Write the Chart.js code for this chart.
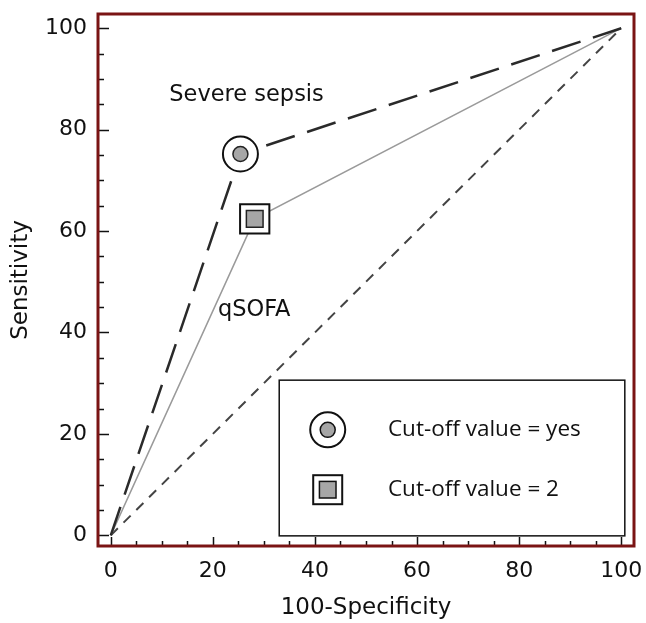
<!DOCTYPE html>
<html>
<head>
<meta charset="utf-8">
<script src="https://cdn.jsdelivr.net/npm/chart.js@4.4.1/dist/chart.umd.min.js"></script>
<style>
  body { margin: 0; background: #fff; }
  #rocChart { display: block; }
</style>
</head>
<body>
<canvas id="rocChart" width="646" height="623"></canvas>
<script>
// ROC curves: x = 100-specificity, y = sensitivity
const severeX = [0, 25.4, 100];
const severeY = [0, 75.2, 100];
const qsofaX = [0, 28.2, 100];
const qsofaY = [0, 62.4, 100];
const chanceX = [0, 100];
const chanceY = [0, 100];
const cutIndex = 1; // point of the cut-off value on each curve

const tickValues = [0, 20, 40, 60, 80, 100];
const curveNames = ["Severe sepsis", "qSOFA"];
const legendLabels = ["Cut-off value = yes", "Cut-off value = 2"];

const axisFont = { family: "DejaVu Sans", size: 22 };
const titleFont = { family: "DejaVu Sans", size: 23 };
const textColor = "#111";
const markerGrey = "#a6a6a6";

const toPoints = (xs, ys) => xs.map((x, i) => ({ x: x, y: ys[i] }));

function markerSet(xs, ys, style, radius, fill, border, width) {
  return {
    data: [{ x: xs[cutIndex], y: ys[cutIndex] }],
    showLine: false,
    pointStyle: style,
    pointRadius: radius,
    pointHoverRadius: radius,
    pointBackgroundColor: fill,
    pointBorderColor: border,
    pointBorderWidth: width,
  };
}

function lineSet(xs, ys, color, width, dash) {
  return {
    data: toPoints(xs, ys),
    showLine: true,
    borderColor: color,
    borderWidth: width,
    borderDash: dash,
    pointRadius: 0,
    fill: false,
    tension: 0,
  };
}

// drawn on top of everything: legend, frame, inward ticks, curve names
const decorPlugin = {
  id: "decor",
  afterDraw(chart) {
    const ctx = chart.ctx;
    const area = chart.chartArea;
    const xs = chart.scales.x;
    const ys = chart.scales.y;

    ctx.save();

    // inward tick marks every 5
    ctx.strokeStyle = "#111";
    ctx.lineWidth = 1.5;
    for (let v = 0; v <= 100; v += 5) {
      const major = v % 20 === 0;
      const px = Math.round(xs.getPixelForValue(v)) + 0.5;
      const py = Math.round(ys.getPixelForValue(v)) + 0.5;
      ctx.beginPath();
      ctx.moveTo(px, area.bottom);
      ctx.lineTo(px, area.bottom - (major ? 9 : 5));
      ctx.moveTo(area.left, py);
      ctx.lineTo(area.left + (major ? 11 : 6), py);
      ctx.stroke();
    }

    // frame
    ctx.strokeStyle = "#7a1414";
    ctx.lineWidth = 3;
    ctx.strokeRect(area.left, area.top, area.right - area.left, area.bottom - area.top);

    // curve names
    ctx.fillStyle = textColor;
    ctx.font = "22.5px 'DejaVu Sans'";
    ctx.textBaseline = "middle";
    ctx.textAlign = "center";
    ctx.fillText(curveNames[0], xs.getPixelForValue(26.6), ys.getPixelForValue(86.8));
    ctx.textAlign = "left";
    ctx.fillText(curveNames[1], xs.getPixelForValue(21), ys.getPixelForValue(44.4));

    // legend box
    const lx0 = xs.getPixelForValue(33);
    const lx1 = xs.getPixelForValue(100.7);
    const ly0 = ys.getPixelForValue(30.6);
    const ly1 = ys.getPixelForValue(-0.1);
    ctx.fillStyle = "#fff";
    ctx.fillRect(lx0, ly0, lx1 - lx0, ly1 - ly0);
    ctx.strokeStyle = "#111";
    ctx.lineWidth = 1.5;
    ctx.strokeRect(lx0, ly0, lx1 - lx0, ly1 - ly0);

    const iconX = xs.getPixelForValue(42.5);
    const textX = xs.getPixelForValue(54.3);
    const row1 = ys.getPixelForValue(20.8);
    const row2 = ys.getPixelForValue(9.0);

    // circle icon
    ctx.lineWidth = 2;
    ctx.beginPath();
    ctx.arc(iconX, row1, 17.5, 0, Math.PI * 2);
    ctx.stroke();
    ctx.beginPath();
    ctx.arc(iconX, row1, 7.5, 0, Math.PI * 2);
    ctx.fillStyle = markerGrey;
    ctx.fill();
    ctx.lineWidth = 1.5;
    ctx.stroke();

    // square icon
    ctx.lineWidth = 2;
    ctx.strokeRect(iconX - 14.5, row2 - 14.5, 29, 29);
    ctx.fillStyle = markerGrey;
    ctx.fillRect(iconX - 8.3, row2 - 8.3, 16.6, 16.6);
    ctx.lineWidth = 1.5;
    ctx.strokeRect(iconX - 8.3, row2 - 8.3, 16.6, 16.6);

    ctx.fillStyle = textColor;
    ctx.font = "22.5px 'Open Sans'";
    ctx.textAlign = "left";
    ctx.fillText(legendLabels[0], textX, row1);
    ctx.fillText(legendLabels[1], textX, row2);

    ctx.restore();
  },
};

const ctx = document.getElementById("rocChart");

new Chart(ctx, {
  type: "scatter",
  data: {
    datasets: [
      markerSet(severeX, severeY, "circle", 7.5, markerGrey, "#222", 1.5),
      markerSet(severeX, severeY, "circle", 17.5, "#fff", "#111", 2),
      markerSet(qsofaX, qsofaY, "rect", 11.8, markerGrey, "#222", 1.5),
      markerSet(qsofaX, qsofaY, "rect", 20.7, "#fff", "#111", 2),
      lineSet(severeX, severeY, "#2a2a2a", 2.5, [30, 13]),
      lineSet(qsofaX, qsofaY, "#9a9a9a", 1.5, []),
      lineSet(chanceX, chanceY, "#444", 2, [10, 8]),
    ],
  },
  options: {
    responsive: false,
    animation: false,
    layout: { autoPadding: false, padding: { top: 14, right: 12, left: 0, bottom: 0 } },
    plugins: {
      legend: { display: false },
      tooltip: { enabled: false },
    },
    scales: {
      x: {
        type: "linear",
        min: -2.5,
        max: 102.5,
        afterBuildTicks: (s) => { s.ticks = tickValues.map((v) => ({ value: v })); },
        afterFit: (s) => { s.height = 77; s.paddingLeft = 0; s.paddingRight = 0; },
        grid: { display: false, drawTicks: false },
        border: { display: false },
        ticks: { font: axisFont, color: textColor, padding: 12, maxRotation: 0, autoSkip: false },
        title: { display: true, text: "100-Specificity", font: titleFont, color: textColor, padding: { top: 0, bottom: 1 } },
      },
      y: {
        type: "linear",
        min: -2.1,
        max: 102.8,
        afterBuildTicks: (s) => { s.ticks = tickValues.map((v) => ({ value: v })); },
        afterFit: (s) => { s.width = 98; s.paddingTop = 0; s.paddingBottom = 0; },
        grid: { display: false, drawTicks: false },
        border: { display: false },
        ticks: { font: axisFont, color: textColor, padding: 11, autoSkip: false },
        title: { display: true, text: "Sensitivity", font: titleFont, color: textColor, padding: { top: 7, bottom: 0 } },
      },
    },
  },
  plugins: [decorPlugin],
});
</script>
</body>
</html>
